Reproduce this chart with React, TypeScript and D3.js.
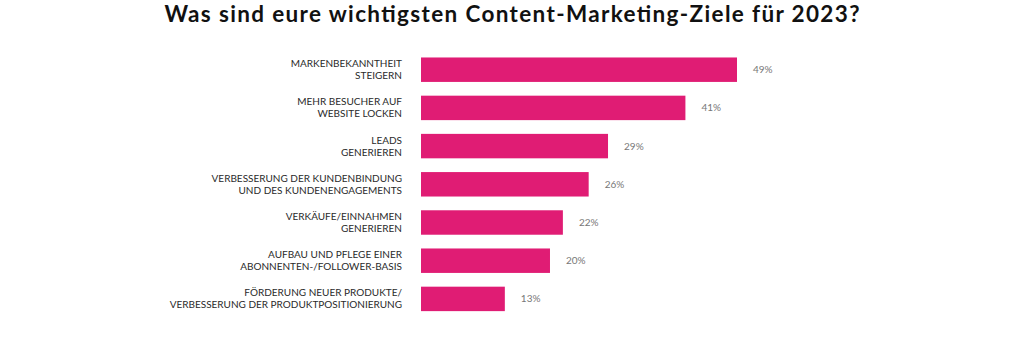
import React from "react";
import * as d3 from "d3";

const width = 1024;
const height = 362;
const pink = "#e01c74";

const title = "Was sind eure wichtigsten Content-Marketing-Ziele für 2023?";

// two lines per category, as in the picture
const categories = [
  ["MARKENBEKANNTHEIT", "STEIGERN"],
  ["MEHR BESUCHER AUF", "WEBSITE LOCKEN"],
  ["LEADS", "GENERIEREN"],
  ["VERBESSERUNG DER KUNDENBINDUNG", "UND DES KUNDENENGAGEMENTS"],
  ["VERKÄUFE/EINNAHMEN", "GENERIEREN"],
  ["AUFBAU UND PFLEGE EINER", "ABONNENTEN-/FOLLOWER-BASIS"],
  ["FÖRDERUNG NEUER PRODUKTE/", "VERBESSERUNG DER PRODUKTPOSITIONIERUNG"],
];
const shares = [49, 41, 29, 26, 22, 20, 13];

const barLeft = 421;

export default function App() {
  const keys = categories.map((c) => c.join(" "));
  const y = d3
    .scaleBand()
    .domain(keys)
    .range([50.6, 318])
    .paddingInner(0.36)
    .paddingOuter(0.18);
  const x = d3.scaleLinear().domain([0, 49]).range([barLeft, barLeft + 316]);

  return (
    <svg
      width={width}
      height={height}
      style={{ position: "absolute", left: 0, top: 0, background: "#fff" }}
    >
      <text
        x={512}
        y={22}
        textAnchor="middle"
        fontFamily="Lato"
        fontWeight="bold"
        fontSize={22.5}
        textLength={695}
        lengthAdjust="spacing"
        fill="#111"
      >
        {title}
      </text>
      {categories.map((lines, i) => {
        const key = keys[i];
        const cy = (y(key) ?? 0) + y.bandwidth() / 2;
        return (
          <g key={key}>
            <rect
              x={x(0)}
              y={y(key)}
              width={x(shares[i]) - x(0)}
              height={y.bandwidth()}
              fill={pink}
            />
            {lines.map((l, j) => (
              <text
                key={j}
                x={402}
                y={cy - 6 + j * 12}
                dy="0.35em"
                textAnchor="end"
                fontFamily="Lato"
                fontSize={10}
                fill="#2a2a2a"
              >
                {l}
              </text>
            ))}
            <text
              x={x(shares[i]) + 16}
              y={cy}
              dy="0.35em"
              fontFamily="Lato"
              fontSize={10}
              fill="#777"
            >
              {shares[i]}%
            </text>
          </g>
        );
      })}
    </svg>
  );
}
